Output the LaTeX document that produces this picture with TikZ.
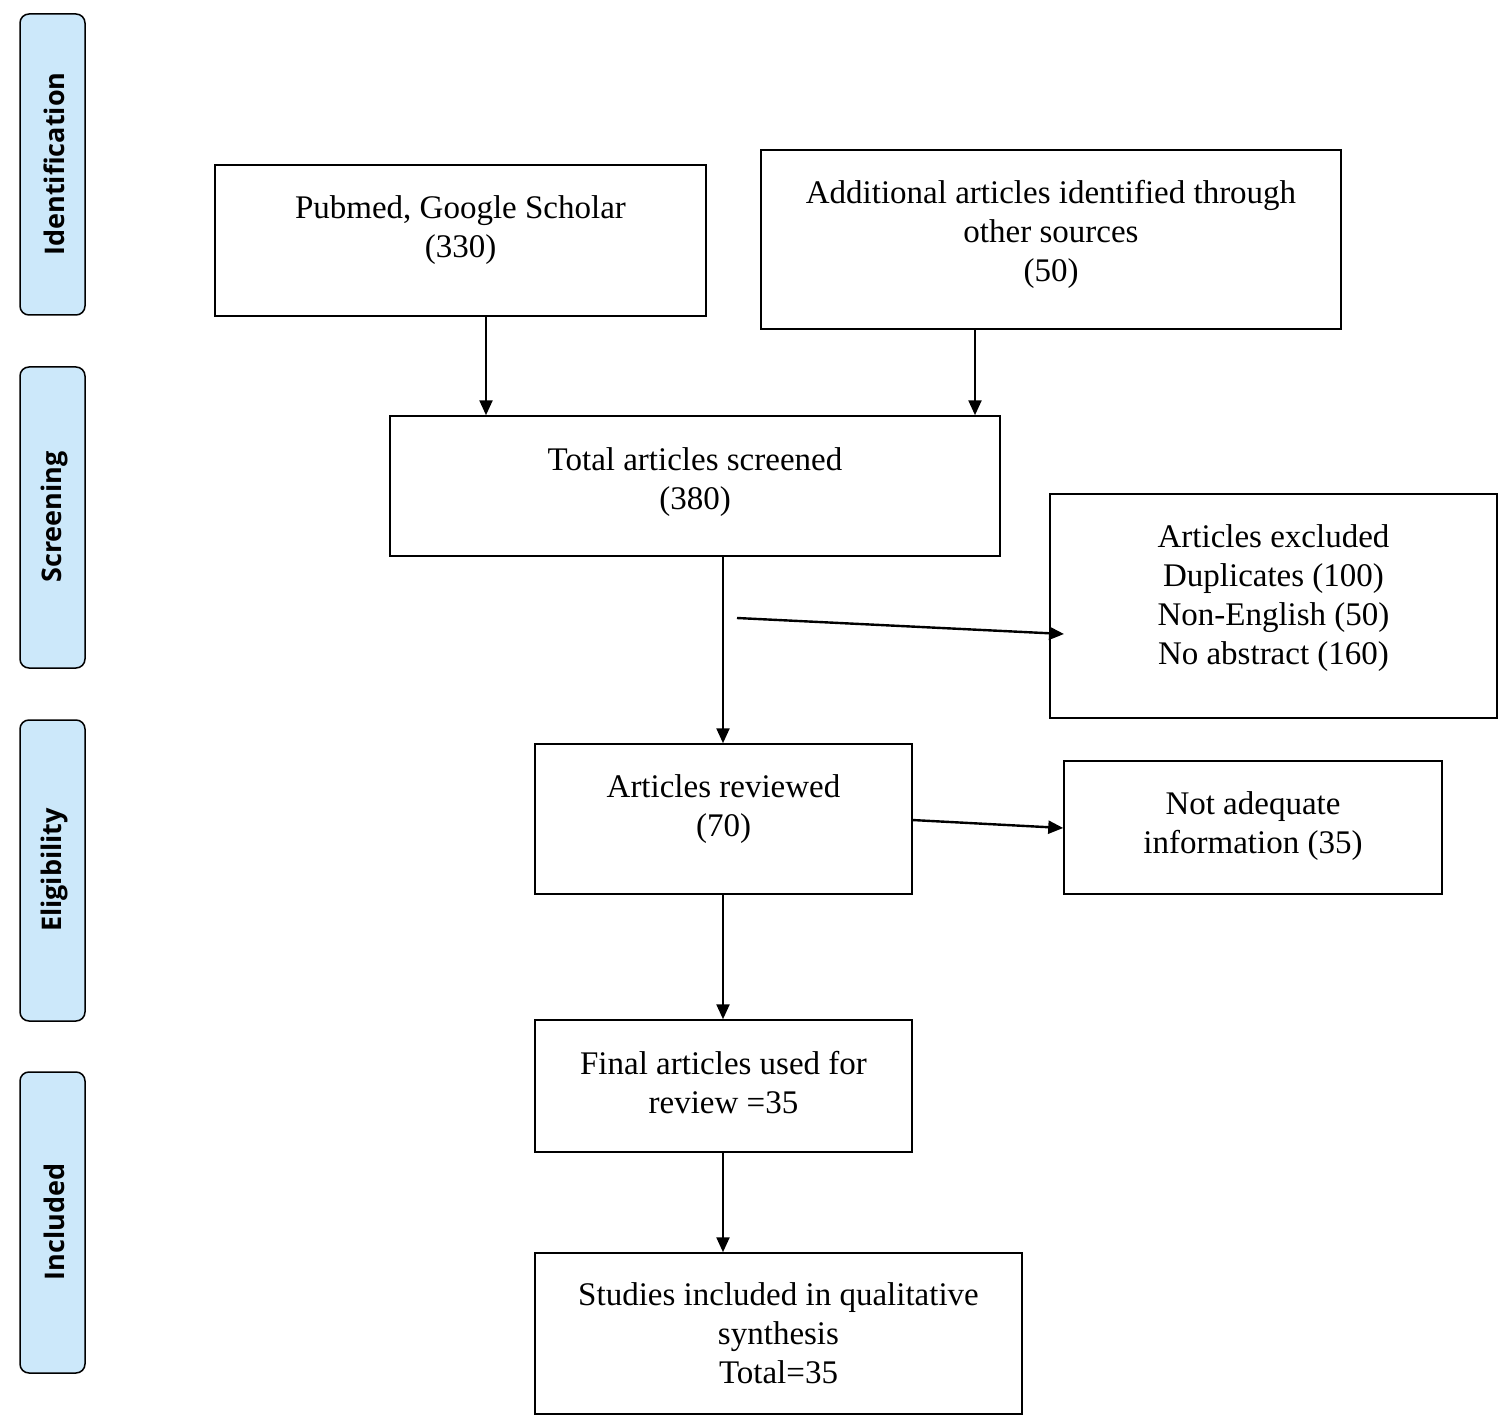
\documentclass[tikz,border=0pt]{standalone}
\usepackage{fontspec}
\setmainfont{Liberation Serif}
\setsansfont{Open Sans}
\usetikzlibrary{arrows.meta}
\definecolor{phase}{RGB}{204,232,250}
\tikzset{
  box/.style={draw=black, line width=1.5pt, align=center, inner sep=0pt, font=\fontsize{33}{39}\selectfont},
  phasebar/.style={draw=black, line width=1.5pt, fill=phase, rounded corners=9pt},
  flow/.style={line width=2.4pt, -{Triangle[length=15pt,width=13pt]}}
}
\begin{document}
\begin{tikzpicture}[x=1pt,y=-1pt]
  \useasboundingbox (0,0) rectangle (1500,1423);
  % phase bars
  \foreach \top/\name in {14/Identification,367/Screening,720/Eligibility,1072/Included}{
    \draw[phasebar] (20,\top) rectangle (85,\top+301);
    \node (\name) [rotate=90, font=\sffamily\bfseries\fontsize{27}{30}\selectfont] at (54,\top+150) {\name};
  }
  % boxes
  \node (pubmed) [box, minimum width=491pt, minimum height=151pt] at (460.5,240.5) {Pubmed, Google Scholar\\(330)\\[-12pt]};
  \node (other) [box, minimum width=580pt, minimum height=179pt] at (1051,239.5) {Additional articles identified through\\other sources\\(50)\\[-22pt]};
  \node (screen) [box, minimum width=610pt, minimum height=140pt] at (695,486) {Total articles screened\\(380)\\[-24pt]};
  \node (excl) [box, minimum width=447pt, minimum height=224pt] at (1273.5,606) {Articles excluded\\Duplicates (100)\\Non-English (50)\\No abstract (160)\\[-16pt]};
  \node (review) [box, minimum width=377pt, minimum height=150pt] at (723.5,819) {Articles reviewed\\(70)\\[-12pt]};
  \node (notadq) [box, minimum width=378pt, minimum height=133pt] at (1253,827.5) {Not adequate\\information (35)\\[-30pt]};
  \node (final) [box, minimum width=377pt, minimum height=132pt] at (723.5,1086) {Final articles used for\\review =35\\[-32pt]};
  \node (incl) [box, minimum width=487pt, minimum height=161pt] at (778.5,1333.5) {Studies included in qualitative\\synthesis\\Total=35};
  % arrows
  \coordinate (c1) at (486,0);
  \coordinate (c2) at (975,0);
  \coordinate (c3) at (723,0);
  \coordinate (branch) at (737,618);
  \draw[flow] (pubmed.south -| c1) -- (screen.north -| c1);
  \draw[flow] (other.south -| c2) -- (screen.north -| c2);
  \draw[flow] (screen.south -| c3) -- (review.north -| c3);
  \draw[flow] (branch) -- (1064,634);
  \draw[flow] (912,820) -- (notadq.west |- 0,828);
  \draw[flow] (review.south -| c3) -- (final.north -| c3);
  \draw[flow] (final.south -| c3) -- (incl.north -| c3);
\end{tikzpicture}
\end{document}
